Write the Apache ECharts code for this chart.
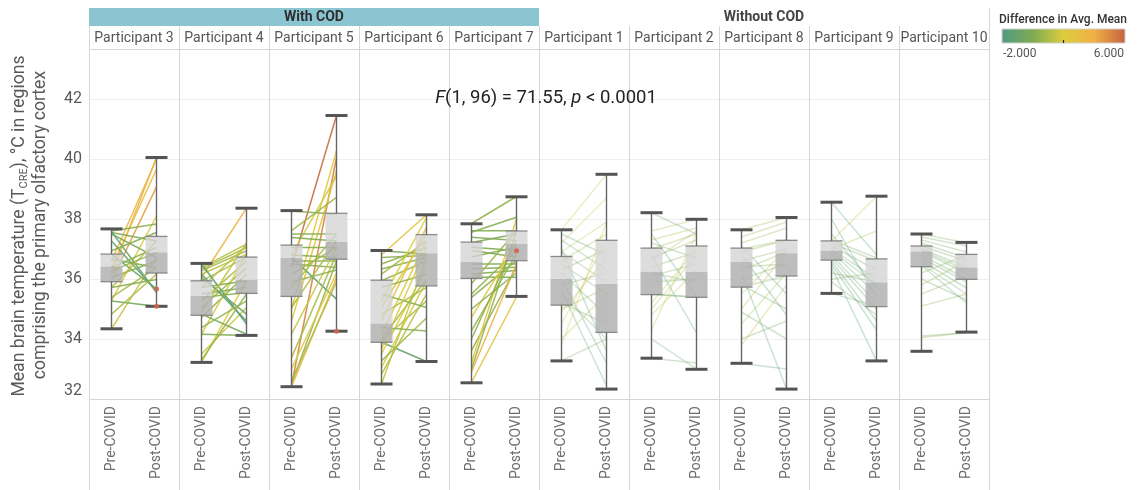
<!DOCTYPE html>
<html>
<head>
<meta charset="utf-8">
<title>Mean brain temperature, pre vs post COVID</title>
<script src="https://cdn.jsdelivr.net/npm/echarts@6/dist/echarts.min.js"></script>
<style>
  html, body { margin: 0; padding: 0; background: #fff; }
  #chart { width: 1138px; height: 490px; }
</style>
</head>
<body>
<div id="chart"></div>
<script>
// Panel order, left to right
const participants = ['Participant 3', 'Participant 4', 'Participant 5', 'Participant 6', 'Participant 7',
                      'Participant 1', 'Participant 2', 'Participant 8', 'Participant 9', 'Participant 10'];
const groupNames = ['With COD', 'Without COD'];
const groupSizes = [5, 5];
const phases = ['Pre-COVID', 'Post-COVID'];

// Colour scale for "Difference in Avg. Mean"
const diffRange = [-2, 6];
const diffColors = ['#4f9a82', '#7daa52', '#dccd3e', '#efb044', '#c4623e'];

// Box statistics per phase: [lower whisker, Q1, median, Q3, upper whisker]
const boxP3  = [[34.34, 35.91, 36.42, 36.83, 37.67], [35.09, 36.20, 36.89, 37.42, 40.05]];
const boxP4  = [[33.22, 34.79, 35.44, 35.94, 36.52], [34.12, 35.52, 35.98, 36.73, 38.36]];
const boxP5  = [[32.41, 35.42, 36.70, 37.13, 38.28], [34.26, 36.66, 37.24, 38.19, 41.45]];
const boxP6  = [[32.50, 33.89, 34.52, 35.96, 36.95], [33.25, 35.77, 36.86, 37.48, 38.14]];
const boxP7  = [[32.54, 36.02, 36.58, 37.23, 37.84], [35.42, 36.61, 37.17, 37.60, 38.74]];
const boxP1  = [[33.27, 35.13, 36.01, 36.75, 37.64], [32.33, 34.22, 35.83, 37.29, 39.49]];
const boxP2  = [[33.36, 35.48, 36.25, 37.03, 38.21], [32.99, 35.39, 36.25, 37.10, 37.99]];
const boxP8  = [[33.19, 35.73, 36.58, 37.03, 37.64], [32.33, 36.10, 36.86, 37.29, 38.05]];
const boxP9  = [[35.52, 36.63, 36.95, 37.27, 38.56], [33.27, 35.08, 35.89, 36.67, 38.76]];
const boxP10 = [[33.59, 36.41, 36.92, 37.10, 37.50], [34.23, 35.99, 36.39, 36.82, 37.22]];

// Region lines: [pre value, post value, difference in avg. mean]
const linesP3 = [[36.16, 40.05, 4.0], [36.60, 40.00, 3.5], [36.38, 39.66, 3.0], [35.94, 39.07, 4.5],
  [35.27, 38.10, 2.2], [34.34, 36.72, 1.5], [37.60, 37.83, 0.3], [37.55, 37.27, 0.0], [37.50, 36.72, -0.3],
  [37.58, 35.55, -1.3], [37.27, 35.60, -1.2], [36.83, 35.67, -0.8], [36.66, 36.38, 0.0], [36.38, 37.05, 0.4],
  [36.05, 36.60, 0.3], [35.72, 37.27, 1.2], [35.39, 36.38, 0.8], [35.27, 35.09, -0.4], [34.83, 36.16, 1.0],
  [35.72, 35.98, 0.2], [36.94, 37.55, 0.2], [36.27, 36.88, 0.5]];
const linesP4 = [[36.05, 38.36, 3.5], [36.38, 37.16, 1.2], [36.33, 37.05, 1.0], [36.27, 36.94, 0.8],
  [36.16, 36.83, 1.4], [35.94, 36.72, 1.0], [35.72, 37.11, 1.3], [35.27, 36.60, 0.8], [35.05, 36.38, 0.6],
  [34.72, 36.16, 0.5], [34.16, 36.83, 1.8], [33.22, 35.94, 2.0], [33.50, 35.05, 1.6], [36.50, 34.50, -1.5],
  [36.16, 34.60, -1.2], [36.05, 34.83, -0.8], [35.50, 35.72, 0.1], [34.83, 34.16, -0.2], [34.16, 34.12, 0.0],
  [34.38, 35.27, 0.4], [35.72, 35.94, 0.2], [35.38, 35.55, 0.3], [33.30, 35.50, 0.6], [34.90, 37.20, 1.5]];
const linesP5 = [[36.40, 41.45, 5.8], [32.45, 40.05, 5.2], [35.00, 40.27, 2.3], [34.60, 39.60, 2.5],
  [36.80, 39.44, 1.8], [37.61, 38.72, 0.8], [38.27, 38.16, 0.2], [37.50, 37.50, 0.2], [37.38, 37.27, 0.0],
  [37.05, 37.05, 0.1], [36.80, 36.72, 0.0], [36.60, 36.60, 0.3], [36.72, 35.33, -1.5], [36.50, 36.38, 0.2],
  [36.16, 37.05, 0.8], [35.72, 37.50, 1.0], [35.05, 37.27, 1.0], [34.16, 37.05, 1.6], [33.38, 36.83, 1.0],
  [32.50, 36.60, 0.5], [32.41, 36.05, 3.5], [32.60, 35.90, 1.0], [33.00, 36.20, 2.2], [35.90, 36.30, 0.5]];
const linesP6 = [[36.94, 36.83, 0.0], [36.72, 36.78, 0.2], [36.50, 37.05, 0.4], [36.33, 36.72, 0.3],
  [36.16, 37.27, 0.8], [35.94, 36.60, 0.6], [35.27, 38.05, 2.0], [35.05, 37.50, 2.2], [34.60, 37.72, 3.0],
  [34.16, 37.27, 2.0], [33.94, 35.27, 1.0], [33.89, 33.25, -1.2], [33.50, 36.38, 2.0], [33.05, 35.94, 1.8],
  [32.50, 36.72, 1.5], [32.83, 35.50, 1.2], [33.27, 34.70, 0.8], [34.38, 34.27, 0.3], [34.83, 35.72, 1.0],
  [35.50, 35.05, 0.2], [35.72, 36.16, 0.4], [33.66, 37.05, 2.5], [36.80, 38.14, 2.6], [34.00, 36.00, 1.0]];
const linesP7 = [[37.85, 38.75, 0.4], [37.61, 37.61, 0.1], [37.56, 38.06, 0.2], [37.39, 37.28, 0.0],
  [37.22, 37.50, 0.0], [37.06, 36.95, 0.0], [36.95, 36.73, 0.0], [36.73, 37.06, 0.1], [36.50, 36.50, 0.0],
  [36.34, 36.39, 0.0], [36.17, 36.28, 0.0], [36.06, 36.06, 0.0], [35.84, 37.61, 0.6], [35.50, 36.95, 0.4],
  [35.39, 36.62, 0.3], [34.72, 37.17, 2.5], [34.28, 36.84, 0.6], [33.61, 36.40, 0.4], [33.20, 38.00, 2.5],
  [32.55, 35.40, 2.8], [32.90, 36.50, 3.8], [33.00, 37.60, 0.5], [34.00, 37.30, 0.3], [35.00, 36.20, 0.2]];
const linesP1 = [[37.64, 39.49, 1.5], [37.20, 38.70, 1.5], [36.90, 37.90, 1.2], [36.60, 37.50, 1.0],
  [36.30, 37.00, 0.0], [37.50, 36.80, -1.0], [37.30, 36.30, -1.0], [36.90, 35.90, -1.0], [36.50, 35.50, -1.0],
  [36.00, 33.20, -1.5], [35.60, 32.44, -1.5], [35.20, 34.50, -0.5], [34.90, 36.70, 1.2], [34.50, 37.30, 1.5],
  [34.00, 35.50, 0.8], [33.28, 34.00, 0.0], [35.50, 34.00, -0.8], [35.00, 35.70, 0.5], [36.20, 34.80, -0.8],
  [33.80, 37.90, 1.8], [35.80, 36.20, 0.0], [37.00, 33.60, -1.3]];
const linesP2 = [[38.21, 37.50, -1.0], [37.60, 37.98, 1.0], [37.30, 37.70, 0.8], [37.00, 37.50, 0.5],
  [36.70, 37.30, 0.3], [36.40, 36.90, 0.0], [36.10, 36.50, 0.0], [35.90, 36.00, -0.5], [35.48, 35.40, -0.8],
  [35.50, 35.39, -0.8], [35.20, 37.00, 1.2], [34.80, 36.30, 1.0], [34.30, 37.50, 1.5], [33.36, 33.20, -0.5],
  [34.00, 33.00, -1.5], [36.80, 34.20, -1.5], [37.50, 35.40, -1.2], [36.20, 35.90, -0.3], [35.00, 36.80, 1.2],
  [36.60, 37.60, 0.6], [37.20, 36.70, -0.3]];
const linesP8 = [[37.64, 38.05, 0.5], [37.40, 37.90, 0.5], [37.20, 37.70, 0.5], [37.00, 37.30, 0.3],
  [36.90, 37.30, 0.3], [36.60, 37.00, 0.3], [36.30, 36.90, 0.3], [36.00, 36.50, 0.0], [35.73, 36.10, 0.0],
  [35.50, 37.00, 1.2], [35.00, 36.90, 1.2], [34.50, 36.20, 1.0], [33.18, 33.00, -1.5], [34.00, 34.60, -0.5],
  [36.80, 34.80, -1.5], [37.10, 35.50, -1.2], [35.80, 35.00, -0.8], [33.80, 35.80, 1.2], [36.20, 32.33, -1.5],
  [34.90, 34.00, -0.8], [36.40, 36.50, 0.0]];
const linesP9 = [[38.55, 36.80, -1.5], [37.27, 38.75, 1.5], [37.00, 37.60, 1.2], [37.20, 36.60, -0.5],
  [37.10, 36.30, -0.8], [37.00, 36.00, -1.0], [36.95, 35.80, -1.0], [36.90, 35.50, -1.2], [36.80, 35.20, -1.2],
  [36.70, 35.00, -1.3], [36.60, 34.60, -1.5], [36.50, 34.30, -1.5], [36.40, 33.27, -1.8], [38.00, 35.40, -1.5],
  [35.52, 35.10, -0.5], [35.90, 34.80, -1.0], [36.20, 35.90, -0.5], [37.30, 36.70, -0.5], [36.00, 36.20, 0.0],
  [37.50, 35.70, -1.2]];
const linesP10 = [[37.50, 37.20, -0.3], [37.40, 37.10, -0.3], [37.30, 36.90, -0.3], [37.20, 36.70, -0.5],
  [37.10, 36.60, -0.5], [37.00, 36.40, -0.6], [36.95, 36.30, -0.6], [36.90, 36.20, -0.7], [36.80, 36.00, -0.8],
  [36.70, 35.90, -0.8], [36.60, 35.70, -0.9], [36.50, 35.50, -1.0], [36.45, 35.20, -1.2], [36.20, 36.80, 0.3],
  [35.80, 36.60, 0.5], [35.50, 36.10, 0.3], [35.10, 35.50, 0.3], [34.10, 34.21, 0.0], [34.05, 34.21, 0.0],
  [36.00, 35.30, -0.8]];

// Flagged readings: [phase index, value]
const flaggedP3 = [[1, 35.67], [1, 35.09]];
const flaggedP5 = [[1, 34.26]];
const flaggedP7 = [[1, 36.94]];

const panels = [
  { lines: linesP3, box: boxP3, flagged: flaggedP3 },
  { lines: linesP4, box: boxP4, flagged: [] },
  { lines: linesP5, box: boxP5, flagged: flaggedP5 },
  { lines: linesP6, box: boxP6, flagged: [] },
  { lines: linesP7, box: boxP7, flagged: flaggedP7 },
  { lines: linesP1, box: boxP1, flagged: [] },
  { lines: linesP2, box: boxP2, flagged: [] },
  { lines: linesP8, box: boxP8, flagged: [] },
  { lines: linesP9, box: boxP9, flagged: [] },
  { lines: linesP10, box: boxP10, flagged: [] }
];

const FONT = 'Roboto, "Noto Sans", sans-serif';
const PLOT_LEFT = 89, PANEL_W = 90, PLOT_TOP = 49, PLOT_H = 350;
const Y_MIN = 32, Y_MAX = 32 + PLOT_H / 30;

const chart = echarts.init(document.getElementById('chart'), null, { renderer: 'canvas' });

const grids = [], xAxes = [], yAxes = [], series = [], lineSeriesIdx = [];

panels.forEach((p, i) => {
  const faded = i >= groupSizes[0];
  grids.push({ left: PLOT_LEFT + PANEL_W * i, top: PLOT_TOP, width: PANEL_W, height: PLOT_H, containLabel: false });
  xAxes.push({
    type: 'category', gridIndex: i, data: phases, boundaryGap: true,
    axisLine: { show: false }, axisTick: { show: false },
    axisLabel: { rotate: 90, margin: 7, color: '#6e6e6e', fontSize: 14, fontFamily: FONT }
  });
  yAxes.push({
    type: 'value', gridIndex: i, min: Y_MIN, max: Y_MAX, interval: 2,
    axisLine: { show: false }, axisTick: { show: false },
    axisLabel: {
      show: i === 0, color: '#5a5a5a', fontSize: 16, fontFamily: FONT, margin: 7,
      showMaxLabel: false, verticalAlignMinLabel: 'bottom',
      formatter: v => (Math.abs(v % 2) < 1e-6 ? String(v) : '')
    },
    splitLine: { show: true, lineStyle: { color: '#efefef', width: 1 } }
  });

  // connecting lines, coloured by the visual map
  lineSeriesIdx.push(series.length);
  series.push({
    type: 'custom', xAxisIndex: i, yAxisIndex: i, z: 2,
    dimensions: ['pre', 'post', 'diff'], encode: { y: [0, 1] },
    data: p.lines,
    renderItem: (params, api) => {
      const a = api.coord([0, api.value(0)]);
      const b = api.coord([1, api.value(1)]);
      return {
        type: 'line',
        shape: { x1: a[0], y1: a[1], x2: b[0], y2: b[1] },
        style: { stroke: api.visual('color'), lineWidth: 1.5, opacity: faded ? 0.3 : 0.9 }
      };
    }
  });

  // two-tone box plots
  series.push({
    type: 'custom', xAxisIndex: i, yAxisIndex: i, z: 3,
    dimensions: ['low', 'q1', 'med', 'q3', 'high'], encode: { y: [0, 4] },
    data: p.box,
    renderItem: (params, api) => {
      const k = params.dataIndex;
      const c = api.coord([k, api.value(2)]);
      const x = c[0];
      const yLow = api.coord([k, api.value(0)])[1];
      const yQ1 = api.coord([k, api.value(1)])[1];
      const yMed = c[1];
      const yQ3 = api.coord([k, api.value(3)])[1];
      const yHigh = api.coord([k, api.value(4)])[1];
      const hw = 11;
      return {
        type: 'group',
        children: [
          { type: 'rect', shape: { x: x - hw, y: yMed, width: hw * 2, height: yQ1 - yMed },
            style: { fill: 'rgba(178,178,178,0.85)' } },
          { type: 'rect', shape: { x: x - hw, y: yQ3, width: hw * 2, height: yMed - yQ3 },
            style: { fill: 'rgba(212,212,212,0.8)' } },
          { type: 'line', shape: { x1: x - hw, y1: yQ1, x2: x + hw, y2: yQ1 }, style: { stroke: '#8a8a8a', lineWidth: 1.3 } },
          { type: 'line', shape: { x1: x - hw, y1: yQ3, x2: x + hw, y2: yQ3 }, style: { stroke: '#8a8a8a', lineWidth: 1.3 } },
          { type: 'line', shape: { x1: x, y1: yQ1, x2: x, y2: yLow }, style: { stroke: '#666', lineWidth: 1.4 } },
          { type: 'line', shape: { x1: x, y1: yQ3, x2: x, y2: yHigh }, style: { stroke: '#666', lineWidth: 1.4 } },
          { type: 'line', shape: { x1: x - hw, y1: yLow, x2: x + hw, y2: yLow }, style: { stroke: '#555', lineWidth: 3 } },
          { type: 'line', shape: { x1: x - hw, y1: yHigh, x2: x + hw, y2: yHigh }, style: { stroke: '#555', lineWidth: 3 } }
        ]
      };
    }
  });

  if (p.flagged.length) {
    series.push({
      type: 'scatter', xAxisIndex: i, yAxisIndex: i, z: 4,
      data: p.flagged, symbolSize: 5, itemStyle: { color: '#d0654c', opacity: 0.9 }, silent: true
    });
  }
});

// Frame, headers and annotations
const graphics = [];
const lineColor = '#d6d6d6';
const nPanels = participants.length;
const rightEdge = PLOT_LEFT + PANEL_W * nPanels;

graphics.push({ type: 'rect', shape: { x: PLOT_LEFT, y: 8, width: PANEL_W * groupSizes[0], height: 18 },
  style: { fill: '#8cc5d2' }, z: 10 });
let start = 0;
groupNames.forEach((g, gi) => {
  const cx = PLOT_LEFT + PANEL_W * (start + groupSizes[gi] / 2);
  graphics.push({ type: 'text', x: cx, y: 17, z: 11,
    style: { text: g, font: 'bold 14px ' + FONT, fill: gi === 0 ? '#2e2e2e' : '#444', align: 'center', verticalAlign: 'middle' } });
  start += groupSizes[gi];
});
participants.forEach((name, i) => {
  graphics.push({ type: 'text', x: PLOT_LEFT + PANEL_W * i + PANEL_W / 2, y: 38, z: 11,
    style: { text: name, font: '14px ' + FONT, fill: '#555', align: 'center', verticalAlign: 'middle' } });
});
for (let i = 0; i <= nPanels; i++) {
  const x = PLOT_LEFT + PANEL_W * i + 0.5;
  graphics.push({ type: 'line', z: 9, shape: { x1: x, y1: i === nPanels ? 8 : 26, x2: x, y2: 490 },
    style: { stroke: lineColor, lineWidth: 1 } });
}
graphics.push({ type: 'line', z: 9, shape: { x1: PLOT_LEFT, y1: PLOT_TOP + 0.5, x2: rightEdge, y2: PLOT_TOP + 0.5 },
  style: { stroke: lineColor, lineWidth: 1 } });
graphics.push({ type: 'line', z: 9, shape: { x1: PLOT_LEFT, y1: PLOT_TOP + PLOT_H + 0.5, x2: rightEdge, y2: PLOT_TOP + PLOT_H + 0.5 },
  style: { stroke: lineColor, lineWidth: 1 } });

// y-axis title
graphics.push({ type: 'text', x: 20, y: 226, rotation: Math.PI / 2, z: 11,
  style: {
    text: 'Mean brain temperature (T{sub|CRE}), °C in regions',
    font: '17.6px ' + FONT, fill: '#595959', align: 'center', verticalAlign: 'middle',
    rich: { sub: { fontSize: 11, fontFamily: FONT, fill: '#595959', padding: [8, 0, 0, 0] } }
  } });
graphics.push({ type: 'text', x: 41, y: 225, rotation: Math.PI / 2, z: 11,
  style: { text: 'comprising the primary olfactory cortex', font: '17.6px ' + FONT, fill: '#595959',
    align: 'center', verticalAlign: 'middle' } });

// test statistic
graphics.push({ type: 'text', x: 546, y: 98, z: 11,
  style: {
    text: '{i|F}(1, 96) = 71.55, {i|p} < 0.0001',
    font: '18.5px ' + FONT, fill: '#222', align: 'center', verticalAlign: 'middle',
    rich: { i: { fontStyle: 'italic', fontSize: 18.5, fontFamily: FONT, fill: '#222' } }
  } });

// colour legend
const legX = 1002, legY = 29, legW = 123, legH = 14;
graphics.push({ type: 'text', x: legX - 3, y: 20, z: 11,
  style: { text: 'Difference in Avg. Mean', font: '500 12px ' + FONT, fill: '#333', align: 'left', verticalAlign: 'middle' } });
graphics.push({ type: 'rect', z: 11, shape: { x: legX, y: legY, width: legW, height: legH },
  style: {
    fill: new echarts.graphic.LinearGradient(0, 0, 1, 0,
      diffColors.map((c, k) => ({ offset: k / (diffColors.length - 1), color: c }))),
    stroke: '#d0d0d0', lineWidth: 1
  } });
graphics.push({ type: 'line', z: 12, shape: { x1: legX + legW / 2, y1: legY + legH - 3, x2: legX + legW / 2, y2: legY + legH },
  style: { stroke: '#222', lineWidth: 1.2 } });
graphics.push({ type: 'text', x: legX + 1, y: legY + legH + 11, z: 11,
  style: { text: diffRange[0].toFixed(3), font: '12px ' + FONT, fill: '#555', align: 'left', verticalAlign: 'middle' } });
graphics.push({ type: 'text', x: legX + legW - 1, y: legY + legH + 11, z: 11,
  style: { text: diffRange[1].toFixed(3), font: '12px ' + FONT, fill: '#555', align: 'right', verticalAlign: 'middle' } });

chart.setOption({
  animation: false,
  backgroundColor: '#fff',
  textStyle: { fontFamily: FONT },
  grid: grids,
  xAxis: xAxes,
  yAxis: yAxes,
  visualMap: {
    type: 'continuous', show: false, min: diffRange[0], max: diffRange[1],
    dimension: 2, seriesIndex: lineSeriesIdx,
    inRange: { color: diffColors }
  },
  series: series,
  graphic: graphics
});
</script>
</body>
</html>
